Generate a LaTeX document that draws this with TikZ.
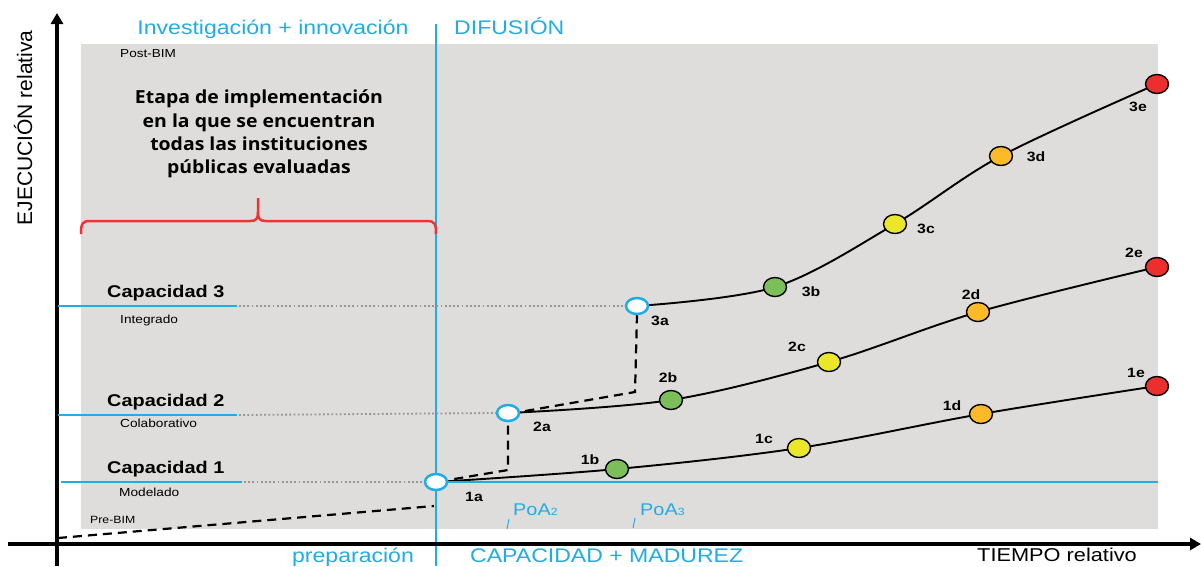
\documentclass[tikz,border=0pt]{standalone}
\usepackage{fontspec}
\setmainfont{Liberation Sans}[FakeStretch=1.17]
\newfontfamily\plainfont{Liberation Sans}
\newfontfamily\osb{Open Sans}[FakeStretch=1.08]
\usetikzlibrary{shapes.geometric,arrows.meta}
\definecolor{bim}{RGB}{32,172,228}
\definecolor{bgg}{RGB}{222,221,220}
\definecolor{dotg}{RGB}{150,150,150}
\definecolor{cgreen}{RGB}{124,190,88}
\definecolor{cyellow}{RGB}{234,230,40}
\definecolor{corange}{RGB}{252,186,40}
\definecolor{cred}{RGB}{236,46,46}
\definecolor{bred}{RGB}{238,52,52}
\begin{document}
\begin{tikzpicture}[x=1pt,y=-1pt,
  fs/.style={font=\fontsize{#1}{#1}\selectfont},
  bimtxt/.style={text=bim, inner sep=0pt, fs=19.7},
  lbl/.style={font=\fontsize{13.5}{14}\selectfont\bfseries, inner sep=0pt},
  captxt/.style={font=\fontsize{17}{18}\selectfont\bfseries, inner sep=0pt, anchor=base west},
  subtxt/.style={font=\fontsize{11.7}{12}\selectfont, inner sep=0pt, anchor=base west},
  bimline/.style={draw=bim, line width=2.2pt},
  dotl/.style={draw=dotg, line width=1.8pt, dash pattern=on 1.8pt off 2.4pt},
  dsh/.style={line width=2.2pt, dash pattern=on 9pt off 6pt},
  curve/.style={line width=1.9pt},
  axis/.style={line width=3.5pt, -{Triangle[length=11pt,width=12pt]}},
  pt/.style={ellipse, draw=black, line width=1.4pt, minimum width=23pt, minimum height=19pt, inner sep=0pt},
  wpt/.style={ellipse, draw=bim, line width=2.5pt, fill=white, minimum width=22pt, minimum height=16pt, inner sep=0pt}
]
\useasboundingbox (0,0) rectangle (1201,566);
\fill[white] (0,0) rectangle (1201,566);
\fill[bgg] (81,44) rectangle (1158,529);

% node positions
\coordinate (p1a) at (436,482);
\coordinate (p1b) at (617,469);
\coordinate (p1c) at (799,448);
\coordinate (p1d) at (981,414);
\coordinate (p1e) at (1157,386);
\coordinate (p2a) at (508,413);
\coordinate (p2b) at (671,400);
\coordinate (p2c) at (829,362);
\coordinate (p2d) at (978,312);
\coordinate (p2e) at (1157,267);
\coordinate (p3a) at (637,306);
\coordinate (p3b) at (775,287);
\coordinate (p3c) at (895,224);
\coordinate (p3d) at (1001,156);
\coordinate (p3e) at (1157,84);

% blue vertical divider
\draw[bimline] (436,24) -- (436,566);

% axes
\draw[axis] (57,566) -- (57,13);
\draw[axis] (8,544) -- (1201,544);

% pre-BIM dashed
\draw[dsh] (58,538) -- (434,506);

% curves
\draw[curve] plot[smooth, tension=0.55] coordinates {(p1a) (p1b) (p1c) (p1d) (p1e)};
\draw[curve] plot[smooth, tension=0.55] coordinates {(p2a) (p2b) (p2c) (p2d) (p2e)};
\draw[curve] plot[smooth, tension=0.55] coordinates {(p3a) (p3b) (p3c) (p3d) (p3e)};

% nodes
\node[wpt] (n1a) at (p1a) {};
\node[pt, fill=cgreen] (n1b) at (p1b) {};
\node[pt, fill=cyellow] (n1c) at (p1c) {};
\node[pt, fill=corange] (n1d) at (p1d) {};
\node[pt, fill=cred] (n1e) at (p1e) {};
\node[wpt] (n2a) at (p2a) {};
\node[pt, fill=cgreen] (n2b) at (p2b) {};
\node[pt, fill=cyellow] (n2c) at (p2c) {};
\node[pt, fill=corange] (n2d) at (p2d) {};
\node[pt, fill=cred] (n2e) at (p2e) {};
\node[wpt] (n3a) at (p3a) {};
\node[pt, fill=cgreen] (n3b) at (p3b) {};
\node[pt, fill=cyellow] (n3c) at (p3c) {};
\node[pt, fill=corange] (n3d) at (p3d) {};
\node[pt, fill=cred] (n3e) at (p3e) {};

% capacity lines
\draw[bimline] (58,306) -- (237,306);
\draw[dotl] (239,306) -- (n3a.west);
\draw[bimline] (58,415) -- (237,415);
\draw[dotl] (239,415) -- (n2a.west);
\draw[bimline] (61,482) -- (242,482);
\draw[dotl] (244,482) -- (n1a.west);
\draw[bimline] (n1a.east) -- (1158,482);

% dashed step connectors
\coordinate (k1) at (508,470);
\coordinate (k2) at (635,392);
\draw[dsh] ([shift={(6,-3)}]n1a.east) -- (k1) -- (n2a.south);
\draw[dsh] ([shift={(5,-2)}]n2a.east) -- (k2) -- (n3a.south);

% node labels
\node[lbl] (l1a) at (474,497) {1a};
\node[lbl] (l1b) at (590,460) {1b};
\node[lbl] (l1c) at (764,439) {1c};
\node[lbl] (l1d) at (952,406) {1d};
\node[lbl] (l1e) at (1136,373) {1e};
\node[lbl] (l2a) at (542,427) {2a};
\node[lbl] (l2b) at (668,378) {2b};
\node[lbl] (l2c) at (797,347) {2c};
\node[lbl] (l2d) at (971,295) {2d};
\node[lbl] (l2e) at (1134,253) {2e};
\node[lbl] (l3a) at (660,321) {3a};
\node[lbl] (l3b) at (811,292) {3b};
\node[lbl] (l3c) at (926,229) {3c};
\node[lbl] (l3d) at (1036,157) {3d};
\node[lbl] (l3e) at (1138,107) {3e};

% capacity texts
\node[captxt] (c3) at (107,297) {Capacidad 3};
\node[subtxt] (s3) at (120,323) {Integrado};
\node[captxt] (c2) at (107,406) {Capacidad 2};
\node[subtxt] (s2) at (120,427) {Colaborativo};
\node[captxt] (c1) at (107,473) {Capacidad 1};
\node[subtxt] (s1) at (119,496) {Modelado};

\node[fs=11.6, inner sep=0pt, anchor=base west] (post) at (120,57) {Post-BIM};
\node[fs=10.5, inner sep=0pt, anchor=base west] (pre) at (90,523) {Pre-BIM};

% headings
\node[bimtxt, anchor=base] (inv) at (273,34) {Investigación + innovación};
\node[bimtxt, anchor=base west] (dif) at (454,34) {DIFUSIÓN};
\node[bimtxt, anchor=base] (prep) at (353,562) {preparación};
\node[bimtxt, anchor=base west] (cap) at (470,562) {CAPACIDAD + MADUREZ};
\node[fs=18.6, inner sep=0pt, anchor=base west] (tiempo) at (977,561) {TIEMPO relativo};
\node[font=\plainfont\fontsize{21}{21}\selectfont, inner sep=0pt, rotate=90] (ejec) at (23,128) {EJECUCIÓN relativa};

% PoA
\node[text=bim, fs=17, inner sep=0pt, anchor=base west] (poa2) at (513,515) {PoA{\fontsize{10.5}{10}\selectfont 2}};
\node[text=bim, fs=17, inner sep=0pt, anchor=base west] (poa3) at (640,515) {PoA{\fontsize{10.5}{10}\selectfont 3}};
\draw[bim, line width=1pt] (507,529) -- (509,519);
\draw[bim, line width=1pt] (633,528) -- (635,518);

% bracket text
\node[font=\osb\bfseries\fontsize{18}{23.2}\selectfont, align=center, inner sep=0pt] (etapa) at (259,134)
  {Etapa de implementación\\en la que se encuentran\\todas las instituciones\\públicas evaluadas};
\draw[bred, line width=2.5pt] (81,234) .. controls (81,224) and (82,221) .. (90,221) -- (250,221)
   .. controls (256,221) and (258,219) .. (258,212) -- (258,198);
\draw[bred, line width=2.5pt] (436,234) .. controls (436,224) and (435,221) .. (427,221) -- (266,221)
   .. controls (260,221) and (258,219) .. (258,212);
\end{tikzpicture}
\end{document}
